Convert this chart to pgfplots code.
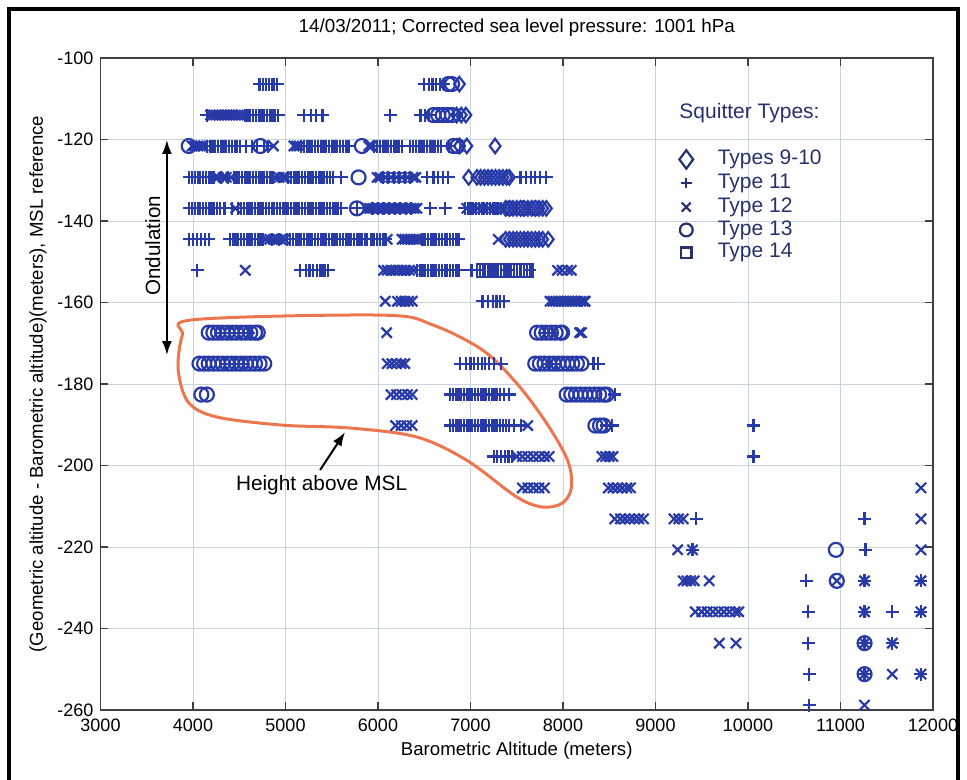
\documentclass[border=0pt]{standalone}
\usepackage{fontspec}
\setmainfont{Liberation Sans}
\usepackage{pgfplots}
\pgfplotsset{compat=1.18}
\usetikzlibrary{arrows.meta}
\definecolor{mblue}{RGB}{40,58,168}
\definecolor{keyc}{RGB}{38,50,110}
\definecolor{gridc}{RGB}{200,212,222}
\definecolor{loopc}{RGB}{238,118,78}
\begin{document}
\begin{tikzpicture}
\useasboundingbox (-50.25pt,-35pt) rectangle (433.25pt,355pt);
\begin{axis}[
  at={(0,0)}, anchor=south west,
  width=416.25pt, height=326pt, scale only axis,
  xmin=3000, xmax=12000, ymin=-260, ymax=-100,
  xtick={3000,4000,...,12000}, ytick={-260,-240,...,-100},
  scaled x ticks=false, scaled y ticks=false,
  grid=major, major grid style={draw=gridc, line width=0.4pt},
  tick align=inside, major tick length=4pt,
  axis line style={line width=0.8pt, draw=black!75},
  tick style={draw=black!75, line width=0.6pt},
  ticklabel style={font=\fontsize{9}{10}\selectfont},
  /pgf/number format/assume math mode=true,
  /pgf/number format/1000 sep={},
  xticklabel style={anchor=base, yshift=-10.5pt},
  yticklabel style={anchor=east},
  title={14/03/2011; Corrected sea level pressure: 1001 hPa},
  title style={at={(axis description cs:0.5,1)}, anchor=base, yshift=6.5pt, font=\fontsize{9.4}{11}\selectfont},
  xlabel={Barometric Altitude (meters)},
  xlabel style={at={(axis description cs:0.5,0)}, anchor=base, yshift=-22.5pt, font=\fontsize{9.3}{11}\selectfont},
  ylabel={(Geometric altitude - Barometric altitude)(meters), MSL reference},
  ylabel style={at={(axis description cs:-0.0751,0.5)}, anchor=center, rotate=0, font=\fontsize{9.3}{11}\selectfont},
  clip=false,
]
% Type 11 (+)
\addplot[only marks, mark=+, mark size=3.25pt, mark options={mblue, line width=1.1pt}] coordinates {
(4720,-106.4)(4760,-106.4)(4790,-106.4)(4820,-106.4)(4850,-106.4)(4880,-106.4)(4910,-106.4)
(6500,-106.4)(6550,-106.4)(6590,-106.4)(6630,-106.4)(6670,-106.4)(6710,-106.4)
(4150,-114.0)(4560,-114.0)(4590,-114.0)(4620,-114.0)(4650,-114.0)(4680,-114.0)(4710,-114.0)(4740,-114.0)(4770,-114.0)(4800,-114.0)(4830,-114.0)(4860,-114.0)(4890,-114.0)(4920,-114.0)
(5200,-114.0)(5280,-114.0)(5330,-114.0)(5400,-114.0)(6130,-114.0)(6460,-114.0)(6510,-114.0)(6550,-114.0)
(4150,-121.6)(4180,-121.6)(4210,-121.6)(4240,-121.6)(4270,-121.6)(4300,-121.6)(4330,-121.6)(4360,-121.6)(4390,-121.6)(4420,-121.6)(4450,-121.6)(4480,-121.6)(4510,-121.6)
(4570,-121.6)(4640,-121.6)(4690,-121.6)(4770,-121.6)(4810,-121.6)
(5170,-121.6)(5200,-121.6)(5230,-121.6)(5260,-121.6)(5290,-121.6)(5320,-121.6)(5350,-121.6)(5380,-121.6)(5410,-121.6)(5440,-121.6)(5470,-121.6)(5500,-121.6)(5530,-121.6)(5560,-121.6)(5590,-121.6)(5620,-121.6)(5650,-121.6)(5680,-121.6)
(5960,-121.6)(5990,-121.6)(6020,-121.6)(6050,-121.6)(6080,-121.6)(6110,-121.6)(6140,-121.6)(6170,-121.6)(6200,-121.6)(6230,-121.6)(6260,-121.6)
(6350,-121.6)(6380,-121.6)(6410,-121.6)(6440,-121.6)(6470,-121.6)(6500,-121.6)(6530,-121.6)(6560,-121.6)(6590,-121.6)(6620,-121.6)(6650,-121.6)(6680,-121.6)(6770,-121.6)
(3960,-129.3)(3990,-129.3)(4020,-129.3)(4050,-129.3)(4080,-129.3)(4110,-129.3)(4140,-129.3)(4170,-129.3)(4200,-129.3)(4230,-129.3)(4300,-129.3)(4380,-129.3)
(4440,-129.3)(4470,-129.3)(4500,-129.3)(4530,-129.3)(4560,-129.3)(4590,-129.3)(4620,-129.3)(4650,-129.3)(4680,-129.3)(4710,-129.3)(4740,-129.3)(4770,-129.3)(4800,-129.3)(4830,-129.3)(4860,-129.3)
(5030,-129.3)(5060,-129.3)(5090,-129.3)(5120,-129.3)(5150,-129.3)(5180,-129.3)(5210,-129.3)(5240,-129.3)(5270,-129.3)(5300,-129.3)(5330,-129.3)(5360,-129.3)(5390,-129.3)(5420,-129.3)(5450,-129.3)(5480,-129.3)(5510,-129.3)(5600,-129.3)
(6050,-129.3)(6110,-129.3)(6170,-129.3)(6230,-129.3)(6290,-129.3)(6350,-129.3)
(6530,-129.3)(6600,-129.3)(6650,-129.3)(6700,-129.3)(6760,-129.3)
(7540,-129.3)(7600,-129.3)(7650,-129.3)(7700,-129.3)(7750,-129.3)(7820,-129.3)
(3960,-136.9)(3990,-136.9)(4020,-136.9)(4050,-136.9)(4080,-136.9)(4110,-136.9)(4140,-136.9)(4170,-136.9)(4200,-136.9)(4230,-136.9)(4260,-136.9)(4290,-136.9)(4340,-136.9)(4420,-136.9)
(4490,-136.9)(4520,-136.9)(4550,-136.9)(4580,-136.9)(4610,-136.9)(4640,-136.9)(4670,-136.9)(4700,-136.9)(4730,-136.9)(4760,-136.9)(4790,-136.9)(4820,-136.9)(4850,-136.9)(4880,-136.9)(4910,-136.9)(4940,-136.9)(4970,-136.9)(5000,-136.9)
(5030,-136.9)(5060,-136.9)(5090,-136.9)(5120,-136.9)(5150,-136.9)(5180,-136.9)(5210,-136.9)(5240,-136.9)(5270,-136.9)(5300,-136.9)(5330,-136.9)(5360,-136.9)(5390,-136.9)(5420,-136.9)(5450,-136.9)(5480,-136.9)(5510,-136.9)(5540,-136.9)(5570,-136.9)(5600,-136.9)
(5772,-136.9)(5940,-136.9)(6000,-136.9)(6060,-136.9)(6120,-136.9)(6180,-136.9)(6240,-136.9)(6300,-136.9)(6360,-136.9)(6564,-136.9)(6726,-136.9)
(6940,-136.9)(6970,-136.9)(7000,-136.9)(7030,-136.9)(7060,-136.9)(7090,-136.9)(7120,-136.9)(7150,-136.9)(7180,-136.9)(7210,-136.9)(7240,-136.9)(7270,-136.9)(7300,-136.9)(7330,-136.9)
(3960,-144.5)(4000,-144.5)(4040,-144.5)(4090,-144.5)(4130,-144.5)(4170,-144.5)
(4400,-144.5)(4430,-144.5)(4460,-144.5)(4490,-144.5)(4520,-144.5)(4550,-144.5)(4580,-144.5)(4610,-144.5)(4640,-144.5)(4670,-144.5)(4700,-144.5)(4730,-144.5)(4760,-144.5)(4850,-144.5)(4930,-144.5)
(5020,-144.5)(5050,-144.5)(5080,-144.5)(5110,-144.5)(5140,-144.5)(5170,-144.5)(5200,-144.5)(5230,-144.5)(5260,-144.5)(5290,-144.5)(5320,-144.5)(5350,-144.5)(5380,-144.5)(5410,-144.5)(5440,-144.5)(5470,-144.5)(5500,-144.5)
(5530,-144.5)(5560,-144.5)(5590,-144.5)(5620,-144.5)(5650,-144.5)(5680,-144.5)(5710,-144.5)(5740,-144.5)(5770,-144.5)(5800,-144.5)(5830,-144.5)(5860,-144.5)(5880,-144.5)
(5930,-144.5)(5960,-144.5)(5990,-144.5)(6020,-144.5)(6050,-144.5)(6080,-144.5)
(6480,-144.5)(6510,-144.5)(6540,-144.5)(6570,-144.5)(6600,-144.5)(6630,-144.5)(6660,-144.5)(6690,-144.5)(6720,-144.5)(6750,-144.5)(6780,-144.5)(6810,-144.5)(6840,-144.5)(6870,-144.5)
(4044,-152.1)(5160,-152.1)(5220,-152.1)(5260,-152.1)(5300,-152.1)(5340,-152.1)(5370,-152.1)(5400,-152.1)(5430,-152.1)(5460,-152.1)
(6420,-152.1)(6450,-152.1)(6480,-152.1)(6510,-152.1)(6540,-152.1)(6570,-152.1)(6600,-152.1)(6630,-152.1)(6660,-152.1)(6690,-152.1)(6720,-152.1)(6750,-152.1)(6780,-152.1)(6810,-152.1)(6840,-152.1)(6870,-152.1)
(7010,-152.1)(7100,-152.1)(7390,-152.1)(7640,-152.1)
(7130,-159.7)(7190,-159.7)(7240,-159.7)(7280,-159.7)(7320,-159.7)(7360,-159.7)
(4300,-167.4)(4400,-167.4)(4500,-167.4)(4600,-167.4)(7800,-167.4)(7880,-167.4)
(4350,-175.0)(4450,-175.0)(4550,-175.0)
(6890,-175.0)(6950,-175.0)(7000,-175.0)(7040,-175.0)(7080,-175.0)(7120,-175.0)(7160,-175.0)(7200,-175.0)(7250,-175.0)(7330,-175.0)
(7850,-175.0)(7920,-175.0)(8330,-175.0)(8380,-175.0)
(6780,-182.6)(6810,-182.6)(6840,-182.6)(6870,-182.6)(6900,-182.6)(6930,-182.6)(6960,-182.6)(6990,-182.6)(7020,-182.6)(7050,-182.6)(7080,-182.6)(7110,-182.6)
(7140,-182.6)(7170,-182.6)(7200,-182.6)(7230,-182.6)(7260,-182.6)(7290,-182.6)(7320,-182.6)(7360,-182.6)(7420,-182.6)(8560,-182.6)
(6780,-190.2)(6810,-190.2)(6840,-190.2)(6870,-190.2)(6900,-190.2)(6930,-190.2)(6960,-190.2)(6990,-190.2)(7020,-190.2)(7050,-190.2)(7080,-190.2)(7110,-190.2)(7140,-190.2)
(7170,-190.2)(7200,-190.2)(7230,-190.2)(7260,-190.2)(7290,-190.2)(7320,-190.2)(7350,-190.2)(7380,-190.2)(7420,-190.2)(7470,-190.2)(7550,-190.2)
(8470,-190.2)(8530,-190.2)(10060,-190.2)
(7250,-197.8)(7290,-197.8)(7330,-197.8)(7370,-197.8)(7410,-197.8)(7450,-197.8)(10060,-197.8)
(9440,-213.1)(11260,-213.1)
(9400,-220.7)(11270,-220.7)
(10630,-228.3)(11260,-228.3)(11870,-228.3)
(10650,-235.9)(11260,-235.9)(11560,-235.9)(11870,-235.9)
(10650,-243.6)(11260,-243.6)(11560,-243.6)
(10660,-251.2)(11260,-251.2)(11870,-251.2)
(10660,-258.8)
};
% Type 12 (x)
\addplot[only marks, mark=x, mark size=3.6pt, mark options={mblue, line width=1.1pt}] coordinates {
(4190,-114.0)(4220,-114.0)(4250,-114.0)(4280,-114.0)(4310,-114.0)(4340,-114.0)(4370,-114.0)(4400,-114.0)(4430,-114.0)(4460,-114.0)(4490,-114.0)(4520,-114.0)
(3990,-121.6)(4020,-121.6)(4050,-121.6)(4080,-121.6)(4110,-121.6)(4870,-121.6)(5090,-121.6)(5120,-121.6)(5150,-121.6)(5900,-121.6)(5930,-121.6)
(4240,-129.3)(4270,-129.3)(4330,-129.3)(4360,-129.3)(4410,-129.3)(4890,-129.3)(4930,-129.3)(4970,-129.3)(5000,-129.3)
(5990,-129.3)(6020,-129.3)(6080,-129.3)(6140,-129.3)(6200,-129.3)(6260,-129.3)(6320,-129.3)(6380,-129.3)(6410,-129.3)
(4460,-136.9)(5880,-136.9)(5910,-136.9)(5940,-136.9)(5970,-136.9)(6000,-136.9)(6030,-136.9)(6060,-136.9)(6090,-136.9)(6120,-136.9)(6150,-136.9)
(6180,-136.9)(6210,-136.9)(6240,-136.9)(6270,-136.9)(6300,-136.9)(6330,-136.9)(6360,-136.9)(6390,-136.9)(6420,-136.9)
(6960,-136.9)(7020,-136.9)(7080,-136.9)(7140,-136.9)(7200,-136.9)(7260,-136.9)(7320,-136.9)(7360,-136.9)
(4790,-144.5)(4830,-144.5)(4870,-144.5)(4910,-144.5)(4950,-144.5)(4990,-144.5)(6100,-144.5)
(6260,-144.5)(6290,-144.5)(6320,-144.5)(6350,-144.5)(6380,-144.5)(6410,-144.5)(6440,-144.5)(7300,-144.5)
(4566,-152.1)(6060,-152.1)(6100,-152.1)(6140,-152.1)(6180,-152.1)(6220,-152.1)(6260,-152.1)(6300,-152.1)(6340,-152.1)(6380,-152.1)
(7940,-152.1)(7990,-152.1)(8050,-152.1)(8090,-152.1)
(6078,-159.7)(6210,-159.7)(6250,-159.7)(6290,-159.7)(6330,-159.7)(6370,-159.7)
(7860,-159.7)(7890,-159.7)(7920,-159.7)(7950,-159.7)(7980,-159.7)(8010,-159.7)(8040,-159.7)(8070,-159.7)(8100,-159.7)(8130,-159.7)(8160,-159.7)(8190,-159.7)(8220,-159.7)(8240,-159.7)
(6094,-167.4)(8180,-167.4)(8200,-167.4)
(6100,-175.0)(6150,-175.0)(6200,-175.0)(6250,-175.0)(6290,-175.0)
(6140,-182.6)(6200,-182.6)(6260,-182.6)(6320,-182.6)(6370,-182.6)
(6190,-190.2)(6250,-190.2)(6310,-190.2)(6370,-190.2)(7620,-190.2)
(7500,-197.8)(7560,-197.8)(7620,-197.8)(7680,-197.8)(7740,-197.8)(7800,-197.8)(7850,-197.8)(8420,-197.8)(8460,-197.8)(8500,-197.8)(8540,-197.8)
(7560,-205.5)(7620,-205.5)(7680,-205.5)(7740,-205.5)(7800,-205.5)(8490,-205.5)(8540,-205.5)(8590,-205.5)(8640,-205.5)(8690,-205.5)(8730,-205.5)(11870,-205.5)
(8560,-213.1)(8620,-213.1)(8670,-213.1)(8720,-213.1)(8770,-213.1)(8820,-213.1)(8870,-213.1)(9200,-213.1)(9250,-213.1)(9300,-213.1)(11870,-213.1)
(9240,-220.7)(9400,-220.7)(11870,-220.7)
(9300,-228.3)(9340,-228.3)(9380,-228.3)(9420,-228.3)(9580,-228.3)(10960,-228.3)(11260,-228.3)(11870,-228.3)
(9430,-235.9)(9500,-235.9)(9560,-235.9)(9620,-235.9)(9680,-235.9)(9740,-235.9)(9800,-235.9)(9860,-235.9)(9900,-235.9)(11260,-235.9)(11870,-235.9)
(9690,-243.6)(9870,-243.6)(11260,-243.6)(11560,-243.6)
(11260,-251.2)(11560,-251.2)(11870,-251.2)
(11260,-258.8)
};
% Type 13 (o)
\addplot[only marks, mark=o, mark size=3.5pt, mark options={mblue, line width=1.1pt}] coordinates {
(6760,-106.4)(6800,-106.4)
(6600,-114.0)(6650,-114.0)(6700,-114.0)(6750,-114.0)(6800,-114.0)
(3954,-121.6)(4728,-121.6)(5826,-121.6)(6816,-121.6)(6860,-121.6)
(5790,-129.3)
(5772,-136.9)(7420,-136.9)(7560,-136.9)(7700,-136.9)
(4170,-167.4)(4220,-167.4)(4270,-167.4)(4320,-167.4)(4370,-167.4)(4420,-167.4)(4470,-167.4)(4520,-167.4)(4570,-167.4)(4620,-167.4)(4670,-167.4)(4700,-167.4)
(7720,-167.4)(7770,-167.4)(7820,-167.4)(7870,-167.4)(7920,-167.4)(7970,-167.4)(7990,-167.4)
(4070,-175.0)(4120,-175.0)(4170,-175.0)(4220,-175.0)(4270,-175.0)(4320,-175.0)(4370,-175.0)(4420,-175.0)(4470,-175.0)(4520,-175.0)(4570,-175.0)(4620,-175.0)(4670,-175.0)(4720,-175.0)(4770,-175.0)
(7700,-175.0)(7750,-175.0)(7800,-175.0)(7850,-175.0)(7900,-175.0)(7950,-175.0)(8000,-175.0)(8050,-175.0)(8100,-175.0)(8150,-175.0)(8200,-175.0)
(4090,-182.6)(4150,-182.6)
(8040,-182.6)(8090,-182.6)(8140,-182.6)(8190,-182.6)(8240,-182.6)(8290,-182.6)(8340,-182.6)(8390,-182.6)(8440,-182.6)(8470,-182.6)
(8350,-190.2)(8400,-190.2)(8440,-190.2)
(10950,-220.7)(10960,-228.3)(11260,-243.6)(11260,-251.2)
};
% Types 9-10 (diamond)
\addplot[only marks, mark=diamond, mark size=3.6pt, mark options={mblue, line width=1.1pt}] coordinates {
(6880,-106.4)
(6850,-114.0)(6900,-114.0)(6950,-114.0)
(6880,-121.6)(6960,-121.6)(7266,-121.6)
(6980,-129.3)(7070,-129.3)(7110,-129.3)(7150,-129.3)(7190,-129.3)(7230,-129.3)(7270,-129.3)(7310,-129.3)(7350,-129.3)(7390,-129.3)(7420,-129.3)
(7380,-136.9)(7420,-136.9)(7460,-136.9)(7500,-136.9)(7540,-136.9)(7580,-136.9)(7620,-136.9)(7660,-136.9)(7700,-136.9)(7740,-136.9)(7780,-136.9)(7820,-136.9)
(7380,-144.5)(7420,-144.5)(7460,-144.5)(7500,-144.5)(7540,-144.5)(7580,-144.5)(7620,-144.5)(7660,-144.5)(7700,-144.5)(7740,-144.5)(7780,-144.5)(7840,-144.5)
};
% Type 14 (square)
\addplot[only marks, mark=square, mark size=3.2pt, mark options={mblue, line width=1.1pt}] coordinates {
(7140,-152.1)(7170,-152.1)(7200,-152.1)(7230,-152.1)(7260,-152.1)(7290,-152.1)(7310,-152.1)
(7480,-152.1)(7510,-152.1)(7540,-152.1)(7570,-152.1)(7600,-152.1)
};
% key
\addplot[only marks, mark=diamond, mark size=4.6pt, mark options={keyc, line width=1.1pt}] coordinates {(9333,-124.9)};
\addplot[only marks, mark=+, mark size=2.6pt, mark options={keyc, line width=1.1pt}] coordinates {(9333,-130.7)};
\addplot[only marks, mark=x, mark size=3.2pt, mark options={keyc, line width=1.1pt}] coordinates {(9333,-136.6)};
\addplot[only marks, mark=o, mark size=3.2pt, mark options={keyc, line width=1.1pt}] coordinates {(9333,-142.2)};
\addplot[only marks, mark=square, mark size=2.6pt, mark options={keyc, line width=1.1pt}] coordinates {(9333,-147.8)};
\node[anchor=west, inner sep=0pt, text=keyc, font=\fontsize{10.5}{12}\selectfont] at (axis cs:9255,-113.5) {Squitter Types:};
\node[anchor=west, inner sep=0pt, text=keyc, font=\fontsize{10.5}{12}\selectfont] at (axis cs:9669,-124.9) {Types 9-10};
\node[anchor=west, inner sep=0pt, text=keyc, font=\fontsize{10.5}{12}\selectfont] at (axis cs:9669,-130.7) {Type 11};
\node[anchor=west, inner sep=0pt, text=keyc, font=\fontsize{10.5}{12}\selectfont] at (axis cs:9669,-136.6) {Type 12};
\node[anchor=west, inner sep=0pt, text=keyc, font=\fontsize{10.5}{12}\selectfont] at (axis cs:9669,-142.2) {Type 13};
\node[anchor=west, inner sep=0pt, text=keyc, font=\fontsize{10.5}{12}\selectfont] at (axis cs:9669,-147.8) {Type 14};
% annotations
\draw[line width=1pt, {Latex[length=7pt,width=5pt]}-{Latex[length=7pt,width=5pt]}] (axis cs:3718,-120.1) -- (axis cs:3718,-172.9);
\node[rotate=90, font=\fontsize{10.3}{12}\selectfont] at (axis cs:3566,-146.1) {Ondulation};
\draw[loopc, line width=1.5pt] plot[smooth cycle, tension=0.55] coordinates {
(4020,-164.2)(6051,-163.1)(6591,-165.5)(7131,-171.7)(7498,-179.8)(7822,-189.6)(8049,-198.7)(8092,-205.3)(7995,-209.2)(7779,-210.2)(7498,-207.7)(6958,-198.7)(6418,-193.0)(5695,-190.8)(4971,-190.1)(4258,-188.1)(3950,-184.5)(3840,-176.5)(3885,-168.0)};
\node[font=\fontsize{10.4}{12}\selectfont] at (axis cs:5390,-204.8) {Height above MSL};
\draw[line width=1pt, -{Latex[length=7pt,width=5pt]}] (axis cs:5374,-201.1) -- (axis cs:5644,-191.8);
\end{axis}
\draw[line width=1.75pt] (-45.75pt,-40pt) -- (-45.75pt,350.5pt) -- (428.75pt,350.5pt) -- (428.75pt,-40pt);
\end{tikzpicture}
\end{document}
